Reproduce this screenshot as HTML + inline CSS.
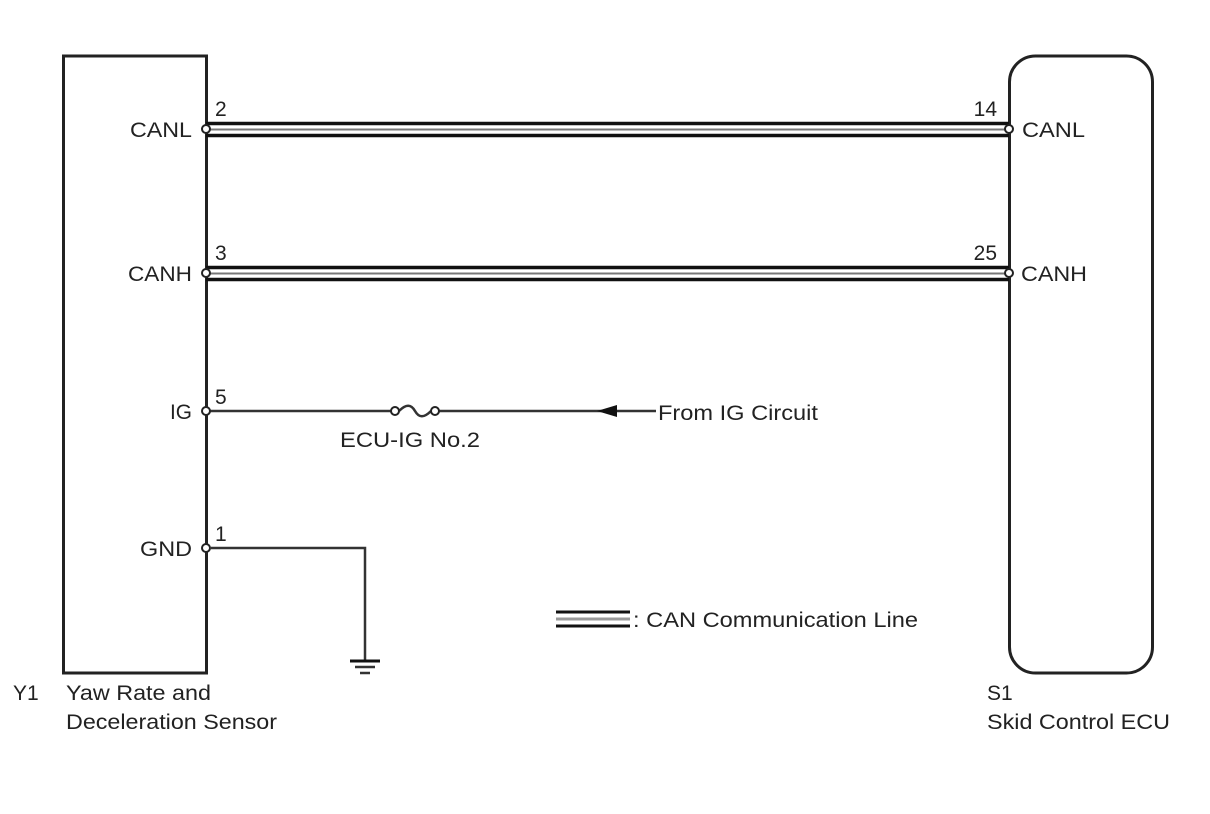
<!DOCTYPE html>
<html><head><style>html,body{margin:0;padding:0;background:#fff}svg{display:block}text{font-family:"Liberation Sans",Arial,sans-serif;font-size:21px;fill:#222}</style></head>
<body>
<svg width="1210" height="814" viewBox="0 0 1210 814">
<rect x="63.5" y="56" width="143" height="617" fill="none" stroke="#222" stroke-width="3"/>
<rect x="1009.5" y="56" width="143" height="617" rx="26" fill="none" stroke="#222" stroke-width="3"/>
<g stroke="#111" stroke-width="3.5">
<line x1="206" y1="123.5" x2="1009" y2="123.5"/><line x1="206" y1="135.5" x2="1009" y2="135.5"/>
<line x1="206" y1="267.5" x2="1009" y2="267.5"/><line x1="206" y1="279.5" x2="1009" y2="279.5"/>
</g>
<g stroke="#777" stroke-width="2">
<line x1="206" y1="129.5" x2="1009" y2="129.5"/><line x1="206" y1="273.5" x2="1009" y2="273.5"/>
</g>
<g stroke="#333" stroke-width="2.5" fill="none">
<line x1="210" y1="411" x2="391" y2="411"/><line x1="439" y1="411" x2="656" y2="411"/>
<path d="M399,411 C406,404 411,404 415,411 C419,418 424,418 431,411"/>
<path d="M211,548 H365 V661"/>
</g>
<polygon points="597,411 617,405 617,417" fill="#111"/>
<g stroke="#111" stroke-width="3"><line x1="350" y1="661" x2="380" y2="661"/></g>
<g stroke="#333" stroke-width="2.5"><line x1="355" y1="667" x2="375" y2="667"/><line x1="360" y1="673" x2="370" y2="673"/></g>
<g fill="#fff" stroke="#222" stroke-width="2">
<circle cx="206" cy="129" r="4"/><circle cx="206" cy="273" r="4"/><circle cx="206" cy="411" r="4"/><circle cx="206" cy="548" r="4"/>
<circle cx="1009" cy="129" r="4"/><circle cx="1009" cy="273" r="4"/>
<circle cx="395" cy="411" r="4"/><circle cx="435" cy="411" r="4"/>
</g>
<g stroke-width="3"><line x1="556" y1="612" x2="630" y2="612" stroke="#111"/><line x1="556" y1="619" x2="630" y2="619" stroke="#999"/><line x1="556" y1="626" x2="630" y2="626" stroke="#111"/></g>
<text x="130" y="137" textLength="62" lengthAdjust="spacingAndGlyphs">CANL</text>
<text x="128" y="281" textLength="64" lengthAdjust="spacingAndGlyphs">CANH</text>
<text x="170" y="419" textLength="22" lengthAdjust="spacingAndGlyphs">IG</text>
<text x="140" y="556" textLength="52" lengthAdjust="spacingAndGlyphs">GND</text>
<text x="215" y="116">2</text><text x="215" y="260">3</text><text x="215" y="404">5</text><text x="215" y="541">1</text>
<text x="997" y="116" text-anchor="end">14</text><text x="997" y="260" text-anchor="end">25</text>
<text x="1022" y="137" textLength="63" lengthAdjust="spacingAndGlyphs">CANL</text>
<text x="1021" y="281" textLength="66" lengthAdjust="spacingAndGlyphs">CANH</text>
<text x="340" y="447" textLength="140" lengthAdjust="spacingAndGlyphs">ECU-IG No.2</text>
<text x="658" y="420" textLength="160" lengthAdjust="spacingAndGlyphs">From IG Circuit</text>
<text x="633" y="627" textLength="285" lengthAdjust="spacingAndGlyphs">: CAN Communication Line</text>
<text x="13" y="700">Y1</text>
<text x="66" y="700" textLength="145" lengthAdjust="spacingAndGlyphs">Yaw Rate and</text>
<text x="66" y="729" textLength="211" lengthAdjust="spacingAndGlyphs">Deceleration Sensor</text>
<text x="987" y="700">S1</text>
<text x="987" y="729" textLength="183" lengthAdjust="spacingAndGlyphs">Skid Control ECU</text>
</svg>
</body></html>
